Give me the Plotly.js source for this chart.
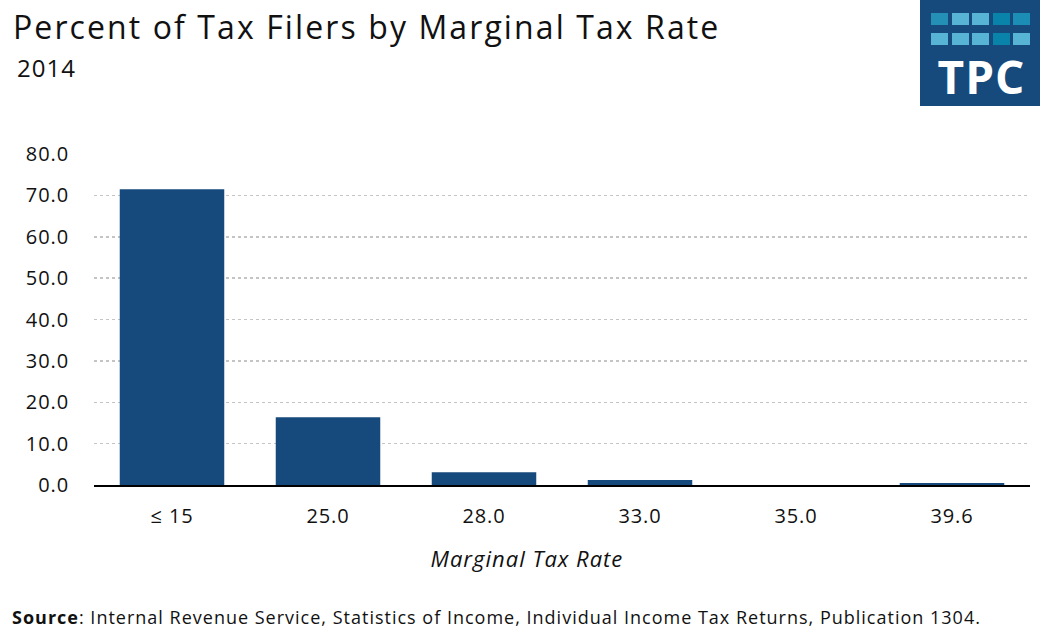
<!DOCTYPE html>
<html>
<head>
<meta charset="utf-8">
<script src="https://cdn.plot.ly/plotly-3.0.1.min.js"></script>
<style>
html,body{margin:0;padding:0;background:#fff;}
#chart{width:1042px;height:640px;}
#chart .gtitle{letter-spacing:2.1px;}
#chart .xtick text,#chart .ytick text{letter-spacing:0.9px;}
#chart .annotation-text{letter-spacing:1px;}
</style>
</head>
<body>
<div id="chart"></div>
<script>
var categories = ["\u2264 15", "25.0", "28.0", "33.0", "35.0", "39.6"];
var percentFilers = [71.5, 16.4, 3.1, 1.2, 0.0, 0.5];
var yTickValues = [0, 10, 20, 30, 40, 50, 60, 70, 80];

var FONT = "'Open Sans', Lato, sans-serif";
var W = 1042, H = 640;
var M = {l: 94, r: 12, t: 154, b: 155};
var PW = W - M.l - M.r, PH = H - M.t - M.b;
function px(x){return (x - M.l) / PW;}
function py(y){return (H - M.b - y) / PH;}

var trace = {
  type: "bar",
  x: categories,
  y: percentFilers,
  marker: {color: "#174a7c"},
  hoverinfo: "x+y"
};

var shapes = [
  {type:"rect", xref:"paper", yref:"paper", x0:px(920), x1:px(1040), y0:py(-2), y1:py(106), fillcolor:"#174a7c", line:{width:0}}
];
var tileX = [931, 952, 972, 993, 1013];
var row1 = ["#2590b6", "#58b4d4", "#58b4d4", "#0a83aa", "#1c8db4"];
var row2 = ["#58b4d4", "#58b4d4", "#58b4d4", "#0a83aa", "#58b4d4"];
for (var i = 0; i < tileX.length; i++) {
  shapes.push({type:"rect", xref:"paper", yref:"paper", x0:px(tileX[i]), x1:px(tileX[i]+17), y0:py(13), y1:py(25), fillcolor:row1[i], line:{width:0}});
  shapes.push({type:"rect", xref:"paper", yref:"paper", x0:px(tileX[i]), x1:px(tileX[i]+17), y0:py(33), y1:py(45), fillcolor:row2[i], line:{width:0}});
}

var layout = {
  width: W, height: H,
  margin: M,
  paper_bgcolor: "#fff",
  plot_bgcolor: "#fff",
  showlegend: false,
  bargap: 0.33,
  font: {family: FONT, color: "#111"},
  title: {
    text: "Percent of Tax Filers by Marginal Tax Rate",
    font: {family: FONT, size: 32, color: "#111"},
    x: 13 / W, xanchor: "left", xref: "container",
    y: 1 - 28 / H, yanchor: "middle", yref: "container"
  },
  xaxis: {
    type: "category",
    showgrid: false,
    showline: true, linecolor: "#000", linewidth: 2,
    ticks: "", ticklabelstandoff: 12,
    tickfont: {family: FONT, size: 20, color: "#111"},
    fixedrange: true
  },
  yaxis: {
    range: [0, 80],
    tickvals: yTickValues,
    tickformat: ".1f",
    showgrid: true, gridcolor: "#c4c4c4", gridwidth: 1.5, griddash: "dot",
    zeroline: false,
    showline: false,
    ticks: "", ticklabelstandoff: 24,
    tickfont: {family: FONT, size: 20, color: "#111"},
    fixedrange: true
  },
  shapes: shapes,
  annotations: [
    {text: "2014", xref: "paper", yref: "paper", x: px(46), y: py(68), xanchor: "center", yanchor: "middle", showarrow: false, font: {family: FONT, size: 24, color: "#111"}},
    {text: "<i>Marginal Tax Rate</i>", xref: "paper", yref: "paper", x: px(527), y: py(558), xanchor: "center", yanchor: "middle", showarrow: false, font: {family: FONT, size: 22, color: "#111"}},
    {text: "<b>Source</b>: Internal Revenue Service, Statistics of Income, Individual Income Tax Returns, Publication 1304.", xref: "paper", yref: "paper", x: px(496), y: py(617), xanchor: "center", yanchor: "middle", showarrow: false, font: {family: FONT, size: 18, color: "#111"}},
    {text: "<b>TPC</b>", xref: "paper", yref: "paper", x: px(981), y: py(76), xanchor: "center", yanchor: "middle", showarrow: false, font: {family: FONT, size: 46, color: "#fff"}}
  ]
};

Plotly.newPlot("chart", [trace], layout, {displayModeBar: false, staticPlot: true});
</script>
</body>
</html>
